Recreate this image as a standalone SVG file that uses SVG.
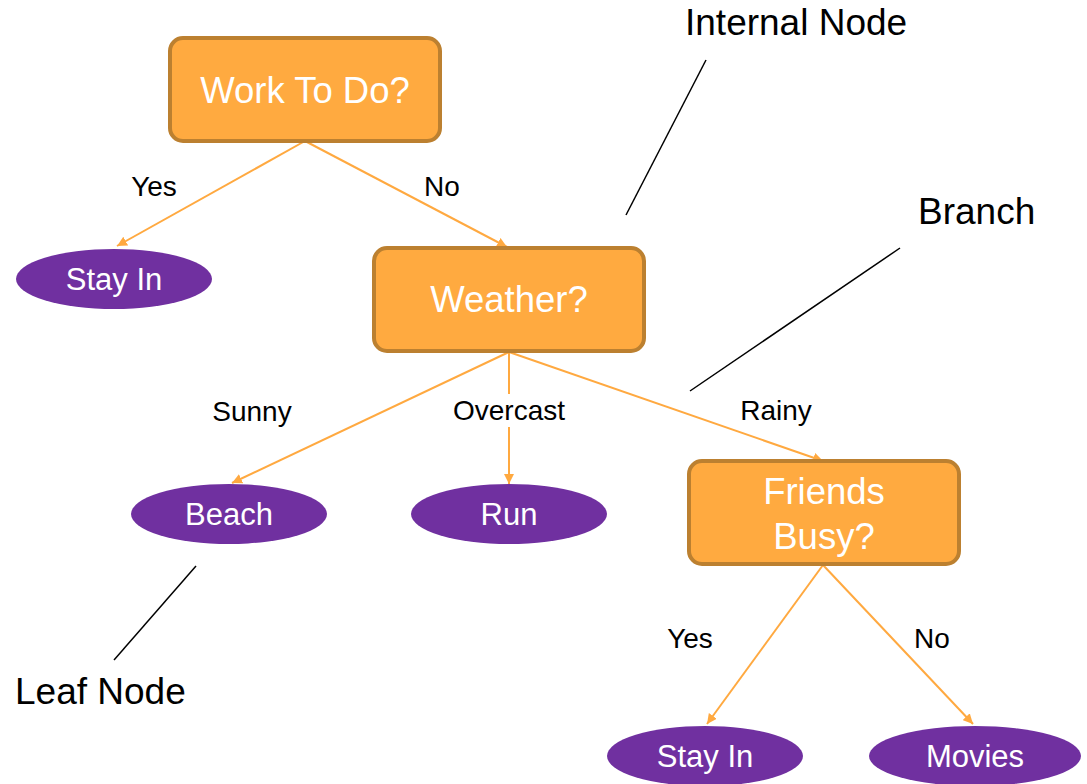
<svg xmlns="http://www.w3.org/2000/svg" width="1087" height="784" viewBox="0 0 1087 784">
<style>
.box{fill:#FFAA40;stroke:#BC8030;stroke-width:4}
.leaf{fill:#7030A0}
.nt{font-family:"Liberation Sans",Arial,sans-serif;font-size:36.5px;fill:#fff;text-anchor:middle}
.lt{font-family:"Liberation Sans",Arial,sans-serif;font-size:31px;fill:#fff;text-anchor:middle}
.el{font-family:"Liberation Sans",Arial,sans-serif;font-size:28px;fill:#000;text-anchor:middle}
.an{font-family:"Liberation Sans",Arial,sans-serif;font-size:37px;fill:#000}
.edge{stroke:#FFA940;stroke-width:2;fill:none;marker-end:url(#arr)}
.ann{stroke:#000;stroke-width:1.5}
</style>
<defs>
<marker id="arr" viewBox="0 0 10 10" refX="10" refY="5" markerWidth="10" markerHeight="10" markerUnits="userSpaceOnUse" orient="auto">
<path d="M0,0 L10,5 L0,10 z" fill="#FFA940"/>
</marker>
</defs>
<rect width="1087" height="784" fill="#fff"/>
<g id="connectors">
<line class="edge" x1="305" y1="141" x2="117" y2="246"/>
<line class="edge" x1="305" y1="141" x2="507" y2="247"/>
<line class="edge" x1="509" y1="352" x2="232" y2="483"/>
<line class="edge" x1="509" y1="352" x2="509" y2="484"/>
<line class="edge" x1="509" y1="352" x2="823" y2="461"/>
<line class="edge" x1="823" y1="565" x2="707" y2="724"/>
<line class="edge" x1="823" y1="565" x2="973" y2="724"/>
<rect x="446" y="394" width="126" height="33" fill="#fff"/>
<text class="el" x="154" y="196">Yes</text>
<text class="el" x="442" y="196">No</text>
<text class="el" x="252" y="421">Sunny</text>
<text class="el" x="509" y="420">Overcast</text>
<text class="el" x="776" y="420">Rainy</text>
<text class="el" x="690" y="648">Yes</text>
<text class="el" x="932" y="648">No</text>
</g>
<g id="annotations">
<line class="ann" x1="706" y1="60" x2="626" y2="215"/>
<line class="ann" x1="900" y1="248" x2="690" y2="391"/>
<line class="ann" x1="196" y1="566" x2="114" y2="660"/>
<text class="an" x="685" y="35">Internal Node</text>
<text class="an" x="918" y="224">Branch</text>
<text class="an" x="15" y="704">Leaf Node</text>
</g>
<g id="work"><rect class="box" x="170" y="38" width="270" height="103" rx="13"/><text class="nt" x="305" y="103">Work To Do?</text></g>
<g id="stayin1"><ellipse class="leaf" cx="114" cy="279" rx="98" ry="30"/><text class="lt" x="114" y="290">Stay In</text></g>
<g id="weather"><rect class="box" x="374" y="248" width="270" height="103" rx="13"/><text class="nt" x="509" y="312">Weather?</text></g>
<g id="beach"><ellipse class="leaf" cx="229" cy="514" rx="98" ry="30"/><text class="lt" x="229" y="525">Beach</text></g>
<g id="run"><ellipse class="leaf" cx="509" cy="514" rx="98" ry="30"/><text class="lt" x="509" y="525">Run</text></g>
<g id="friends"><rect class="box" x="689" y="461" width="270" height="103" rx="13"/><text class="nt" x="824" y="504">Friends</text><text class="nt" x="824" y="549">Busy?</text></g>
<g id="stayin2"><ellipse class="leaf" cx="705" cy="756" rx="98" ry="30"/><text class="lt" x="705" y="767">Stay In</text></g>
<g id="movies"><ellipse class="leaf" cx="975" cy="756" rx="106" ry="30"/><text class="lt" x="975" y="767">Movies</text></g>
</svg>
